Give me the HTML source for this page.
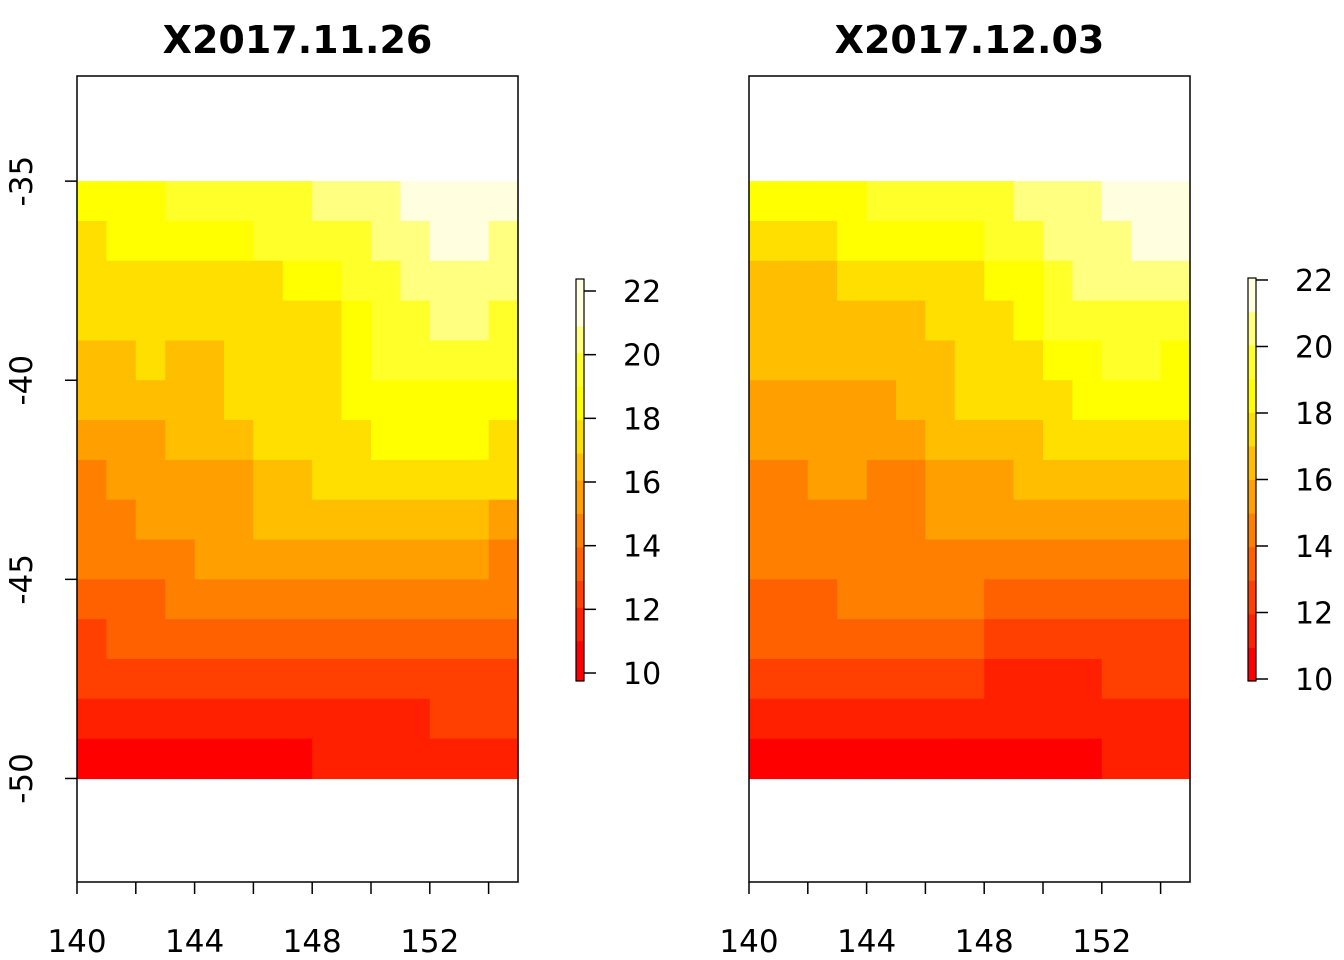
<!DOCTYPE html>
<html><head><meta charset="utf-8"><style>
html,body{margin:0;padding:0;background:#fff;}
svg{display:block;font-family:"DejaVu Sans","Liberation Sans",sans-serif;}
</style></head><body>
<svg id="chart" width="1344" height="960" viewBox="0 0 1344 960" xmlns="http://www.w3.org/2000/svg"></svg>
<script>
const palette=["#FF0000","#FF2000","#FF4000","#FF6000","#FF8000","#FFA000","#FFBF00","#FFDF00","#FFFF00","#FFFF2A","#FFFF80","#FFFFDF"];
const xTicks=[140,144,148,152];
const yTicks=[-35,-40,-45,-50];
const legendTicks=[10,12,14,16,18,20,22];
const titles=["X2017.11.26","X2017.12.03"];
// values per cell (row 0 = lat -35..-36, columns lon 140..155)
const gridA=[
[18,18,18,19,19,19,19,19,20,20,20,21,21,21,21],
[17,18,18,18,18,18,19,19,19,19,20,20,21,21,20],
[17,17,17,17,17,17,17,18,18,19,19,20,20,20,20],
[17,17,17,17,17,17,17,17,17,18,19,19,20,20,19],
[16,16,17,16,16,17,17,17,17,18,19,19,19,19,19],
[16,16,16,16,16,17,17,17,17,18,18,18,18,18,18],
[15,15,15,16,16,16,17,17,17,17,18,18,18,18,17],
[14,15,15,15,15,15,16,16,17,17,17,17,17,17,17],
[14,14,15,15,15,15,16,16,16,16,16,16,16,16,15],
[14,14,14,14,15,15,15,15,15,15,15,15,15,15,14],
[13,13,13,14,14,14,14,14,14,14,14,14,14,14,14],
[12,13,13,13,13,13,13,13,13,13,13,13,13,13,13],
[12,12,12,12,12,12,12,12,12,12,12,12,12,12,12],
[11,11,11,11,11,11,11,11,11,11,11,11,12,12,12],
[10,10,10,10,10,10,10,10,11,11,11,11,11,11,11]];
const gridB=[
[18,18,18,18,19,19,19,19,19,20,20,20,21,21,21],
[17,17,17,18,18,18,18,18,19,19,20,20,20,21,21],
[16,16,16,17,17,17,17,17,18,18,19,20,20,20,20],
[16,16,16,16,16,16,17,17,17,18,19,19,19,19,19],
[16,16,16,16,16,16,16,17,17,17,18,18,19,19,18],
[15,15,15,15,15,16,16,17,17,17,17,18,18,18,18],
[15,15,15,15,15,15,16,16,16,16,17,17,17,17,17],
[14,14,15,15,14,14,15,15,15,16,16,16,16,16,16],
[14,14,14,14,14,14,15,15,15,15,15,15,15,15,15],
[14,14,14,14,14,14,14,14,14,14,14,14,14,14,14],
[13,13,13,14,14,14,14,14,13,13,13,13,13,13,13],
[13,13,13,13,13,13,13,13,12,12,12,12,12,12,12],
[12,12,12,12,12,12,12,12,11,11,11,11,12,12,12],
[11,11,11,11,11,11,11,11,11,11,11,11,11,11,11],
[10,10,10,10,10,10,10,10,10,10,10,10,11,11,11]];
const grids=[gridA,gridB];
const legendRanges=[[9.749,22.377],[9.94,22.06]];

const svg=document.getElementById('chart');
const NS="http://www.w3.org/2000/svg";
function mk(tag,attrs,parent){const e=document.createElementNS(NS,tag);for(const k in attrs)e.setAttribute(k,attrs[k]);(parent||svg).appendChild(e);return e;}
function colorOf(v){let i=Math.floor(v-10);if(i<0)i=0;if(i>11)i=11;return palette[i];}

const panels=[{x0:77,x1:518,lbx:576,lby0:279,lby1:681},{x0:749,x1:1190,lbx:1248,lby0:278,lby1:681}];
const yTop=76,yBot=882,latTop=-32.36,latBot=-52.6;
const lonMin=140,lonMax=155;
function sy(lat){return yTop+(latTop-lat)/(latTop-latBot)*(yBot-yTop);}

panels.forEach((p,pi)=>{
  const sx=lon=>p.x0+(lon-lonMin)/(lonMax-lonMin)*(p.x1-p.x0);
  const g=mk('g',{});
  
  
  const grid=grids[pi];
  grid.forEach((row,r)=>row.forEach((v,c)=>{
    const x=sx(lonMin+c),x2=sx(lonMin+c+1),y=sy(-35-r),y2=sy(-36-r);
    const rc=mk('rect',{x:x,y:y,width:x2-x+0.6,height:y2-y+0.6,fill:colorOf(v)},g);
    
    
  }));
  const fr=mk('rect',{x:p.x0,y:yTop,width:p.x1-p.x0,height:yBot-yTop,fill:'none',stroke:'#000','stroke-width':1.5},g);
  
  
  const t=mk('text',{x:(p.x0+p.x1)/2,y:53,'text-anchor':'middle','font-size':'38px','font-weight':'bold'},g);
  t.textContent=titles[pi];
  
  
  for(let lon=140;lon<=154;lon+=2){
    mk('line',{x1:sx(lon),x2:sx(lon),y1:yBot,y2:yBot+12,stroke:'#000','stroke-width':1.5},g);
  }
  xTicks.forEach(v=>{
    const tx=mk('text',{x:sx(v),y:952,'text-anchor':'middle','font-size':'31px'},g);
    tx.textContent=v;
    
    
  });
  if(pi===0){
    yTicks.forEach(v=>{
      mk('line',{x1:p.x0-12,x2:p.x0,y1:sy(v),y2:sy(v),stroke:'#000','stroke-width':1.5},g);
      const ty=mk('text',{x:0,y:0,'text-anchor':'middle','font-size':'31px',transform:`translate(32,${sy(v)}) rotate(-90)`},g);
      ty.textContent=v;
      
      
    });
  }
  const [lv0,lv1]=legendRanges[pi];
  const ly=v=>p.lby1-(v-lv0)/(lv1-lv0)*(p.lby1-p.lby0);
  const lg=mk('g',{},g);
  
  
  const N=60;
  for(let i=0;i<N;i++){
    const v0=lv0+(lv1-lv0)*i/N,v1=lv0+(lv1-lv0)*(i+1)/N;
    mk('rect',{x:p.lbx,y:ly(v1),width:8,height:ly(v0)-ly(v1)+0.5,fill:colorOf((v0+v1)/2)},lg);
  }
  mk('rect',{x:p.lbx,y:p.lby0,width:8,height:p.lby1-p.lby0,fill:'none',stroke:'#000','stroke-width':1.2},lg);
  legendTicks.forEach(v=>{
    mk('line',{x1:p.lbx+8,x2:p.lbx+20,y1:ly(v),y2:ly(v),stroke:'#000','stroke-width':1.5},lg);
    const tl=mk('text',{x:p.lbx+47,y:ly(v)+11,'font-size':'30px'},lg);
    tl.textContent=v;
    
    
  });
});
</script>
</body></html>
